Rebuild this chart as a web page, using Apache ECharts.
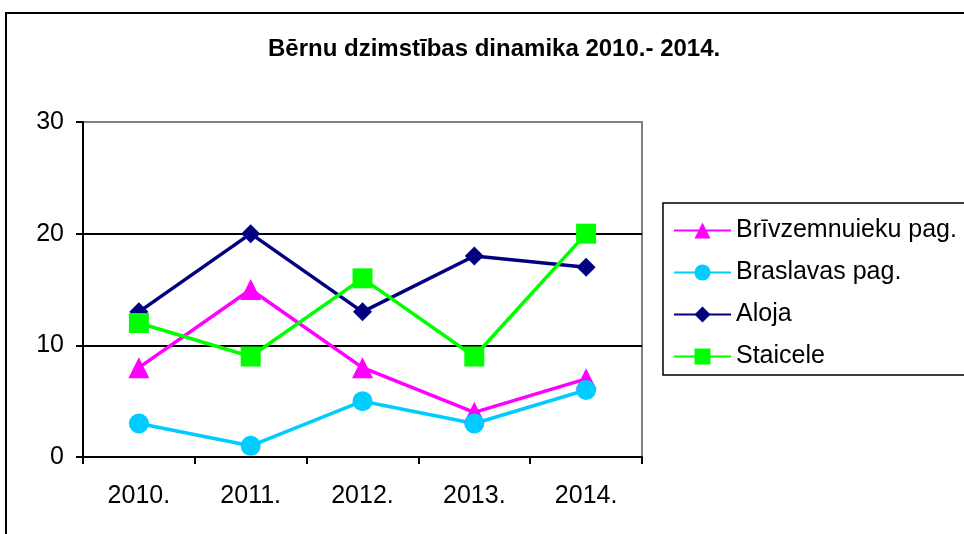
<!DOCTYPE html>
<html>
<head>
<meta charset="utf-8">
<script src="https://cdn.jsdelivr.net/npm/echarts@6/dist/echarts.min.js"></script>
<style>
html,body{margin:0;padding:0;background:#fff;}
#chart{width:964px;height:534px;}
</style>
</head>
<body>
<div id="chart"></div>
<script>
var titleText = 'Bērnu dzimstības dinamika 2010.- 2014.';
var categories = ['2010.', '2011.', '2012.', '2013.', '2014.'];
var seriesNames = ['Brīvzemnuieku pag.', 'Braslavas pag.', 'Aloja', 'Staicele'];
var brivzemnuieku = [8, 15, 8, 4, 7];
var braslavas = [3, 1, 5, 3, 6];
var aloja = [13, 20, 13, 18, 17];
var staicele = [12, 9, 16, 9, 20];
var yTicks = [0, 10, 20, 30];

var FONT = '"Liberation Sans", Arial, sans-serif';
var chart = echarts.init(document.getElementById('chart'), null, {renderer: 'canvas'});

function mkSeries(name, data, color, symbol, size) {
  return {
    name: name, type: 'line', data: data,
    symbol: symbol, symbolSize: size,
    lineStyle: {color: color, width: 3.5},
    itemStyle: {color: color},
    emphasis: {disabled: true},
    animation: false
  };
}

chart.setOption({
  backgroundColor: '#fff',
  animation: false,
  title: {
    text: titleText,
    left: 268,
    top: 32,
    padding: [5, 0, 5, 0],
    textStyle: {fontFamily: FONT, fontSize: 24, fontWeight: 'bold', color: '#000'}
  },
  graphic: [{
    type: 'rect', silent: true, z: -10,
    shape: {x: 6, y: 13, width: 1000, height: 600},
    style: {fill: 'none', stroke: '#000', lineWidth: 2}
  }],
  legend: {
    orient: 'vertical',
    left: 663, top: 203,
    data: seriesNames,
    itemWidth: 57, itemHeight: 20, itemGap: 17,
    padding: [15, 40, 6, 10],
    borderColor: '#000', borderWidth: 1.5,
    backgroundColor: '#fff',
    textStyle: {fontFamily: FONT, fontSize: 25, color: '#000'},
    selectedMode: false
  },
  grid: {
    left: 83, right: 322, top: 122, bottom: 77,
    show: true, borderColor: '#808080', borderWidth: 2, backgroundColor: '#fff'
  },
  xAxis: {
    type: 'category', data: categories, boundaryGap: true,
    axisLine: {lineStyle: {color: '#000', width: 2}},
    axisTick: {show: true, length: 7, lineStyle: {color: '#000', width: 2}},
    axisLabel: {fontFamily: FONT, fontSize: 25, color: '#000', margin: 27},
    splitLine: {show: false}
  },
  yAxis: {
    type: 'value', min: yTicks[0], max: yTicks[yTicks.length - 1], interval: 10,
    axisLine: {show: true, lineStyle: {color: '#000', width: 2}},
    axisTick: {show: true, length: 7, lineStyle: {color: '#000', width: 2}},
    axisLabel: {fontFamily: FONT, fontSize: 25, color: '#000', margin: 19},
    splitLine: {show: true, showMinLine: false, showMaxLine: false, lineStyle: {color: '#000', width: 2}}
  },
  series: [
    mkSeries(seriesNames[0], brivzemnuieku, '#FF00FF', 'triangle', 21),
    mkSeries(seriesNames[1], braslavas, '#00CCFF', 'circle', 20),
    mkSeries(seriesNames[2], aloja, '#000080', 'diamond', 19),
    mkSeries(seriesNames[3], staicele, '#00FF00', 'rect', 20)
  ]
});
</script>
</body>
</html>
